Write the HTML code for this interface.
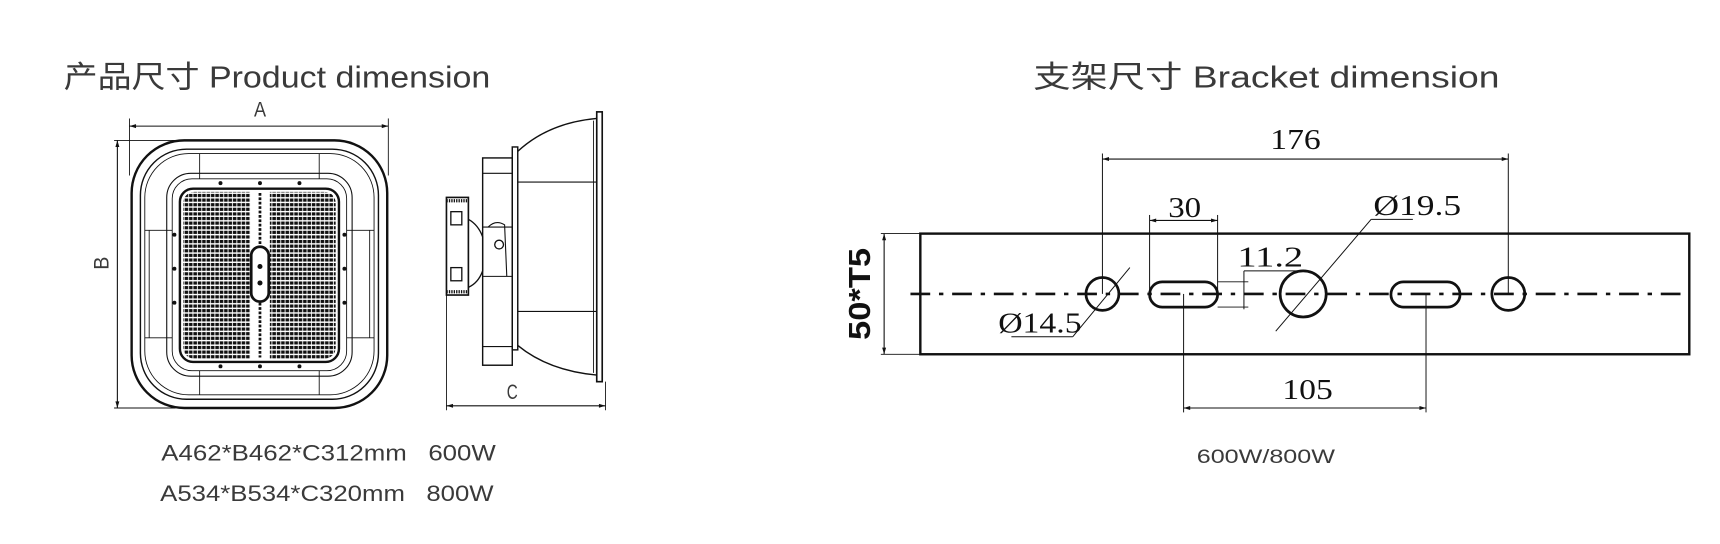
<!DOCTYPE html>
<html><head><meta charset="utf-8"><style>
html,body{margin:0;padding:0;background:#fff;}
svg{display:block;}
.t{font-family:"Liberation Sans","Noto Sans CJK SC",sans-serif;fill:#3a3a3a;}
.d{font-family:"Liberation Serif","Noto Serif CJK SC",serif;fill:#111;}
</style></head><body>
<svg width="1720" height="544" viewBox="0 0 1568 496" preserveAspectRatio="none" xmlns="http://www.w3.org/2000/svg">
<defs>
<pattern id="led" x="0" y="0" width="4" height="4.2" patternUnits="userSpaceOnUse">
<rect x="0.3" y="0.4" width="3.2" height="2.9" fill="#111"/>
</pattern>
<marker id="ar" viewBox="0 0 10 10" refX="10" refY="5" markerWidth="8" markerHeight="6" orient="auto-start-reverse"><path d="M0,2 L10,5 L0,8 z" fill="#111"/></marker>
</defs>

<text class="t" x="58" y="80" font-size="28" textLength="389" lengthAdjust="spacingAndGlyphs">产品尺寸 Product dimension</text>
<text class="t" x="942" y="80" font-size="28" textLength="425" lengthAdjust="spacingAndGlyphs">支架尺寸  Bracket dimension</text>

<g stroke="#111" fill="none">
<line x1="118" y1="115" x2="354" y2="115" stroke-width="1" marker-start="url(#ar)" marker-end="url(#ar)"/>
<line x1="118" y1="108" x2="118" y2="160" stroke-width="0.8"/>
<line x1="354" y1="108" x2="354" y2="160" stroke-width="0.8"/>
<line x1="107" y1="128" x2="107" y2="372" stroke-width="1" marker-start="url(#ar)" marker-end="url(#ar)"/>
<line x1="104" y1="128" x2="160" y2="128" stroke-width="0.8"/>
<line x1="104" y1="372" x2="160" y2="372" stroke-width="0.8"/>

<rect x="120" y="128" width="233" height="244" rx="48" stroke-width="2.2"/>
<rect x="128" y="136" width="217" height="228" rx="42" stroke-width="1.3"/>
<rect x="132" y="140" width="209" height="220" rx="40" stroke-width="0.8"/>
<rect x="152" y="158" width="169" height="185" rx="22" stroke-width="1"/>
<rect x="157" y="163" width="159" height="175" rx="18" stroke-width="0.8"/>
<line x1="182" y1="140" x2="182" y2="163" stroke-width="0.8"/>
<line x1="291" y1="140" x2="291" y2="163" stroke-width="0.8"/>
<line x1="182" y1="338" x2="182" y2="360" stroke-width="0.8"/>
<line x1="291" y1="338" x2="291" y2="360" stroke-width="0.8"/>
<line x1="132" y1="210" x2="157" y2="210" stroke-width="0.8"/>
<line x1="132" y1="308" x2="157" y2="308" stroke-width="0.8"/>
<line x1="316" y1="210" x2="341" y2="210" stroke-width="0.8"/>
<line x1="316" y1="308" x2="341" y2="308" stroke-width="0.8"/>
<line x1="136" y1="210" x2="136" y2="308" stroke-width="0.8"/>
<line x1="337" y1="210" x2="337" y2="308" stroke-width="0.8"/>
<rect x="164" y="172" width="145" height="158" rx="12" stroke-width="2.2"/>
<rect x="167" y="175" width="139" height="152" rx="10" fill="url(#led)" stroke="none"/>
<rect x="228" y="174" width="18" height="154" fill="#fff" stroke="none"/>
<line x1="237" y1="176" x2="237" y2="326" stroke-width="2.5" stroke-dasharray="2.5 1.5"/>
<rect x="229" y="225" width="16" height="50" rx="8" stroke-width="2.5" fill="#fff"/>
</g>
<g fill="#111">
<circle cx="237" cy="243" r="2.3"/><circle cx="237" cy="258" r="2.3"/>
<circle cx="201" cy="167" r="1.8"/><circle cx="237" cy="167" r="1.8"/><circle cx="273" cy="167" r="1.8"/>
<circle cx="201" cy="334" r="1.8"/><circle cx="237" cy="334" r="1.8"/><circle cx="273" cy="334" r="1.8"/>
<circle cx="159" cy="214" r="1.8"/><circle cx="159" cy="245" r="1.8"/><circle cx="159" cy="276" r="1.8"/>
<circle cx="314" cy="214" r="1.8"/><circle cx="314" cy="245" r="1.8"/><circle cx="314" cy="276" r="1.8"/>
</g>
<text class="t" x="237" y="106" font-size="19" text-anchor="middle" textLength="11" lengthAdjust="spacingAndGlyphs">A</text>
<text class="t" x="0" y="0" font-size="19" text-anchor="middle" transform="translate(99,240) rotate(-90)" textLength="12" lengthAdjust="spacingAndGlyphs">B</text>

<g stroke="#111" fill="none">
<rect x="407" y="180" width="20" height="89" stroke-width="1.5"/>
<line x1="407" y1="183" x2="427" y2="183" stroke-width="3" stroke-dasharray="1.2 1"/>
<line x1="407" y1="266" x2="427" y2="266" stroke-width="3" stroke-dasharray="1.2 1"/>
<rect x="411" y="193" width="10" height="12" stroke-width="1.2"/>
<rect x="411" y="244" width="10" height="12" stroke-width="1.2"/>
<path d="M427,200 Q436,205 440,216 L440,247 Q436,258 427,262" stroke-width="1.2"/>
<rect x="440" y="144" width="27" height="189" stroke-width="1.3"/>
<line x1="440" y1="158" x2="467" y2="158" stroke-width="1"/>
<line x1="440" y1="207" x2="467" y2="207" stroke-width="1"/>
<line x1="440" y1="252" x2="467" y2="252" stroke-width="1"/>
<line x1="440" y1="316" x2="467" y2="316" stroke-width="1"/>
<path d="M445,207 Q452,200 460,205 L462,252" stroke-width="1"/>
<circle cx="455" cy="223" r="4" stroke-width="1.2"/>
<rect x="467" y="134" width="5" height="185" stroke-width="1.3"/>
<path d="M472,138 Q500,112 544,108" stroke-width="1.3"/>
<path d="M472,315 Q500,338 544,342" stroke-width="1.3"/>
<line x1="472" y1="166" x2="544" y2="166" stroke-width="1"/>
<line x1="472" y1="284" x2="544" y2="284" stroke-width="1"/>
<rect x="544" y="102" width="5" height="246" stroke-width="1.5"/>
<line x1="541" y1="110" x2="541" y2="340" stroke-width="0.8"/>
<line x1="407" y1="269" x2="407" y2="374" stroke-width="0.8"/>
<line x1="552" y1="348" x2="552" y2="374" stroke-width="0.8"/>
<line x1="407" y1="370" x2="552" y2="370" stroke-width="1" marker-start="url(#ar)" marker-end="url(#ar)"/>
</g>
<text class="t" x="467" y="364" font-size="19" text-anchor="middle" textLength="10" lengthAdjust="spacingAndGlyphs">C</text>

<text class="t" x="147" y="420" font-size="20" textLength="305" lengthAdjust="spacingAndGlyphs">A462*B462*C312mm&#160;&#160;&#160;600W</text>
<text class="t" x="146" y="457" font-size="20" textLength="304" lengthAdjust="spacingAndGlyphs">A534*B534*C320mm&#160;&#160;&#160;800W</text>

<g stroke="#111" fill="none">
<rect x="839" y="213" width="701" height="110" stroke-width="2.2"/>
<line x1="806" y1="213" x2="806" y2="323" stroke-width="1" marker-start="url(#ar)" marker-end="url(#ar)"/>
<line x1="803" y1="213" x2="839" y2="213" stroke-width="0.8"/>
<line x1="803" y1="323" x2="839" y2="323" stroke-width="0.8"/>
<circle cx="1005" cy="268" r="15" stroke-width="2.5" fill="#fff"/>
<rect x="1048" y="257" width="62" height="23" rx="11.5" stroke-width="2.5" fill="#fff"/>
<circle cx="1188" cy="268" r="21" stroke-width="2.5" fill="#fff"/>
<rect x="1268" y="257" width="63" height="23" rx="11.5" stroke-width="2.5" fill="#fff"/>
<circle cx="1375" cy="268" r="15" stroke-width="2.5" fill="#fff"/>
<line x1="830" y1="268" x2="1540" y2="268" stroke-width="2.5" stroke-dasharray="18 8 4 8"/>
<line x1="1005" y1="140" x2="1005" y2="268" stroke-width="0.9"/>
<line x1="1375" y1="140" x2="1375" y2="268" stroke-width="0.9"/>
<line x1="1005" y1="145" x2="1375" y2="145" stroke-width="1" marker-start="url(#ar)" marker-end="url(#ar)"/>
<line x1="1048" y1="196" x2="1048" y2="268" stroke-width="0.9"/>
<line x1="1110" y1="196" x2="1110" y2="268" stroke-width="0.9"/>
<line x1="1048" y1="201" x2="1110" y2="201" stroke-width="1" marker-start="url(#ar)" marker-end="url(#ar)"/>
<line x1="1110" y1="257" x2="1138" y2="257" stroke-width="0.8"/>
<line x1="1110" y1="280" x2="1138" y2="280" stroke-width="0.8"/>
<line x1="1134" y1="247" x2="1134" y2="282" stroke-width="0.9"/>
<line x1="1134" y1="247" x2="1190" y2="247" stroke-width="0.9"/>
<line x1="1250" y1="200" x2="1288" y2="200" stroke-width="0.9"/>
<line x1="1250" y1="200" x2="1163" y2="302" stroke-width="0.9"/>
<line x1="922" y1="307" x2="978" y2="307" stroke-width="0.9"/>
<line x1="978" y1="307" x2="1030" y2="244" stroke-width="0.9"/>
<line x1="1079" y1="268" x2="1079" y2="376" stroke-width="0.9"/>
<line x1="1300" y1="268" x2="1300" y2="376" stroke-width="0.9"/>
<line x1="1079" y1="372" x2="1300" y2="372" stroke-width="1" marker-start="url(#ar)" marker-end="url(#ar)"/>
</g>
<g class="d" font-size="26">
<text x="1181" y="136" text-anchor="middle" textLength="46" lengthAdjust="spacingAndGlyphs">176</text>
<text x="1080" y="198" text-anchor="middle" textLength="30" lengthAdjust="spacingAndGlyphs">30</text>
<text x="1128" y="243" textLength="60" lengthAdjust="spacingAndGlyphs">11.2</text>
<text x="1252" y="196" textLength="80" lengthAdjust="spacingAndGlyphs">Ø19.5</text>
<text x="910" y="303" textLength="76" lengthAdjust="spacingAndGlyphs">Ø14.5</text>
<text x="1192" y="364" text-anchor="middle" textLength="46" lengthAdjust="spacingAndGlyphs">105</text>
</g>
<text x="0" y="0" font-family="Liberation Sans, sans-serif" font-weight="bold" font-size="28" fill="#111" text-anchor="middle" transform="translate(793,268) rotate(-90)" textLength="84" lengthAdjust="spacingAndGlyphs">50*T5</text>
<text class="t" x="1154" y="422" font-size="18" text-anchor="middle" textLength="126" lengthAdjust="spacingAndGlyphs">600W/800W</text>
</svg>
</body></html>
